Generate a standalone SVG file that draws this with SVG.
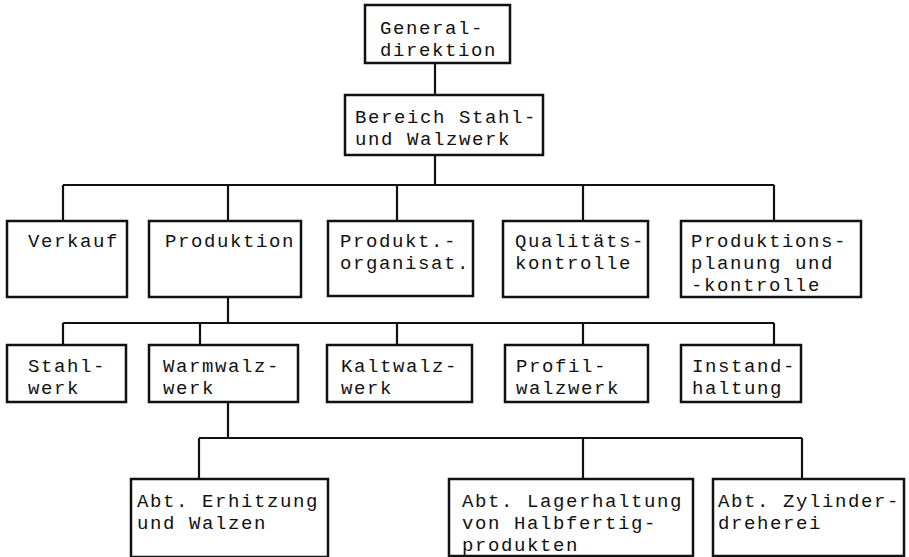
<svg xmlns="http://www.w3.org/2000/svg" width="909" height="557" viewBox="0 0 909 557">
<style>
.box{fill:#fff;stroke:#111;stroke-width:2.5}
.ln{fill:none;stroke:#111;stroke-width:2.2}
text{font-family:"Liberation Mono","DejaVu Sans Mono",monospace;font-size:19px;letter-spacing:1.6px;fill:#111}
</style>
<rect width="909" height="557" fill="#fff"/>
<g id="connectors" class="ln">
<path d="M435 63V95M435 155V185M63 185H774M63 185V221M228 185V221M397 185V221M583 185V221M774 185V221"/>
<path d="M228 297V323M63 323H774M63 323V345M200 323V345M397 323V345M583 323V345M774 323V345"/>
<path d="M228 402V438M199 438H802M199 438V479M583 438V479M802 438V479"/>
</g>
<g id="n-generaldirektion"><rect class="box" x="365" y="5" width="145" height="58"/><text x="380" y="34">General-</text><text x="380" y="56">direktion</text></g>
<g id="n-bereich"><rect class="box" x="345" y="95" width="198" height="60"/><text x="355" y="123">Bereich Stahl-</text><text x="355" y="145">und Walzwerk</text></g>
<g id="n-verkauf"><rect class="box" x="7" y="221" width="120" height="76"/><text x="28" y="247">Verkauf</text></g>
<g id="n-produktion"><rect class="box" x="149" y="221" width="152" height="76"/><text x="165" y="247">Produktion</text></g>
<g id="n-produktorg"><rect class="box" x="328" y="221" width="145" height="75"/><text x="340" y="247">Produkt.-</text><text x="340" y="269">organisat.</text></g>
<g id="n-qualitaet"><rect class="box" x="503" y="221" width="145" height="76"/><text x="515" y="247">Qualitäts-</text><text x="515" y="269">kontrolle</text></g>
<g id="n-planung"><rect class="box" x="681" y="221" width="180" height="76"/><text x="691" y="247">Produktions-</text><text x="691" y="269">planung und</text><text x="691" y="291">-kontrolle</text></g>
<g id="n-stahlwerk"><rect class="box" x="7" y="345" width="119" height="57"/><text x="28" y="372">Stahl-</text><text x="28" y="394">werk</text></g>
<g id="n-warmwalzwerk"><rect class="box" x="149" y="345" width="149" height="57"/><text x="163" y="372">Warmwalz-</text><text x="163" y="394">werk</text></g>
<g id="n-kaltwalzwerk"><rect class="box" x="327" y="345" width="145" height="57"/><text x="341" y="372">Kaltwalz-</text><text x="341" y="394">werk</text></g>
<g id="n-profilwalzwerk"><rect class="box" x="505" y="345" width="143" height="57"/><text x="516" y="372">Profil-</text><text x="516" y="394">walzwerk</text></g>
<g id="n-instandhaltung"><rect class="box" x="681" y="345" width="120" height="57"/><text x="692" y="372">Instand-</text><text x="692" y="394">haltung</text></g>
<g id="n-erhitzung"><rect class="box" x="131" y="479" width="197" height="78"/><text x="137" y="507">Abt. Erhitzung</text><text x="137" y="529">und Walzen</text></g>
<g id="n-lagerhaltung"><rect class="box" x="449" y="479" width="244" height="77"/><text x="462" y="507">Abt. Lagerhaltung</text><text x="462" y="529">von Halbfertig-</text><text x="462" y="551">produkten</text></g>
<g id="n-zylinder"><rect class="box" x="713" y="479" width="191" height="77"/><text x="718" y="507">Abt. Zylinder-</text><text x="718" y="529">dreherei</text></g>
</svg>
